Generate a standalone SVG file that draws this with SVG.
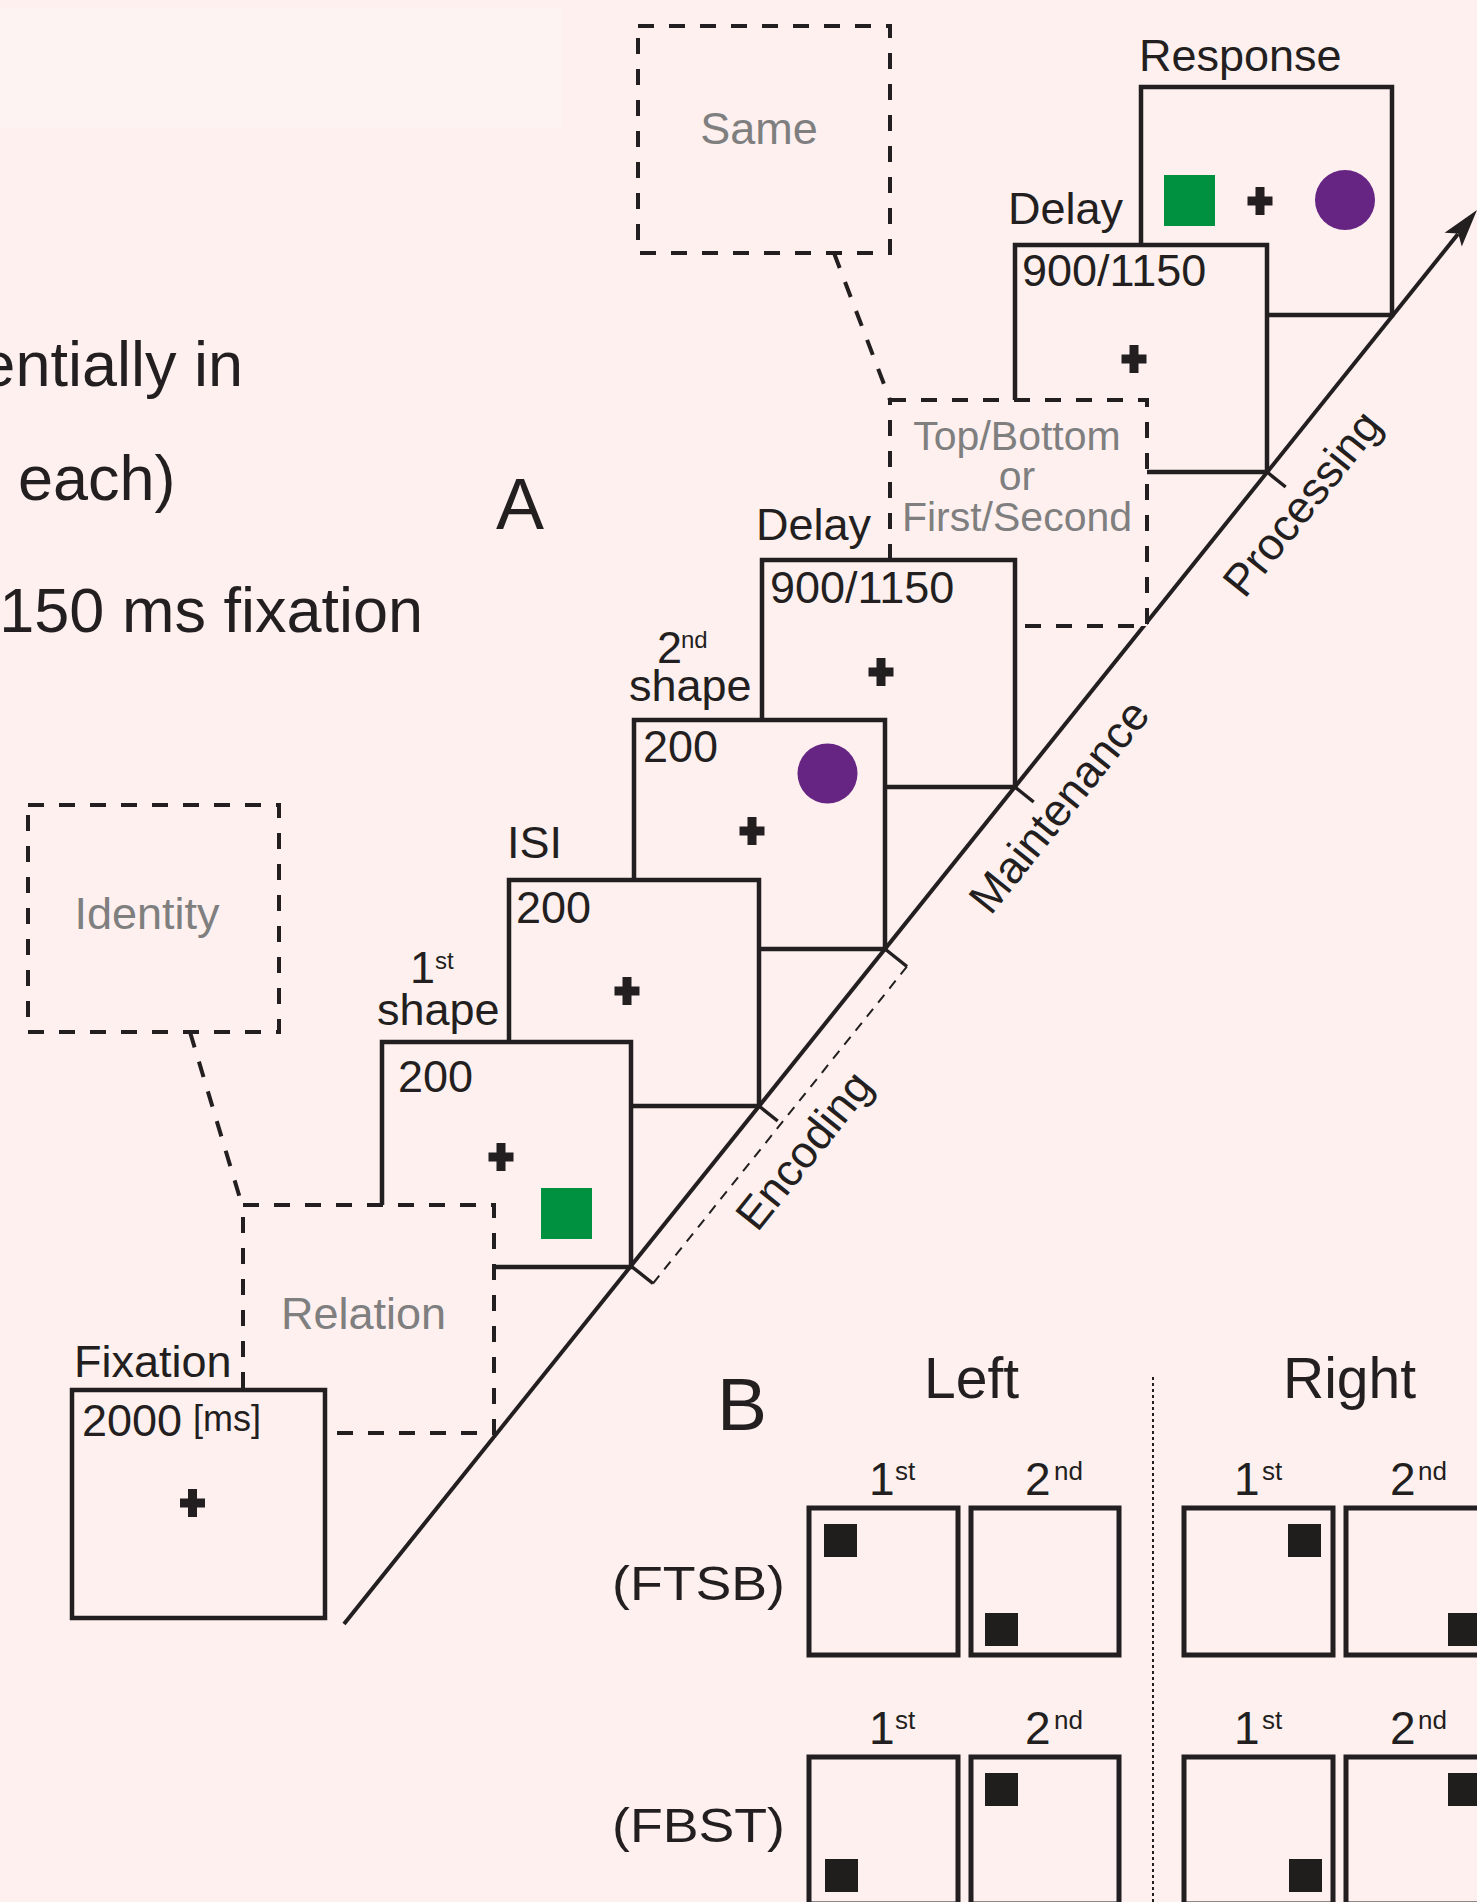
<svg xmlns="http://www.w3.org/2000/svg" xmlns:xlink="http://www.w3.org/1999/xlink" width="1477" height="1902" viewBox="0 0 1477 1902">
  <style>
    .t { font-family: "Liberation Sans", Arial, Helvetica, sans-serif; fill: #231f20; }
    .lbl { font-size: 45px; }
    .sup { font-size: 24px; }
    .bsup { font-size: 26px; }
    .gray { fill: #7f7f7f; }
    .frame { fill: #fdf0ef; stroke: #231f20; stroke-width: 4.5; }
    .dashed { fill: #fdf0ef; stroke: #231f20; stroke-width: 4; stroke-dasharray: 16 15; }
    .lead { fill: none; stroke: #231f20; stroke-width: 4; stroke-dasharray: 16 15; }
    .axis { fill: none; stroke: #231f20; stroke-width: 4; }
    .tick { fill: none; stroke: #231f20; stroke-width: 3.5; }
    .bracket { fill: none; stroke: #231f20; stroke-width: 2; stroke-dasharray: 10 8; }
    .cell { fill: #fdf0ef; stroke: #231f20; stroke-width: 5; }
    .dot { fill: #1f1e1c; }
    .green { fill: #009140; }
    .purple { fill: #662483; }
  </style>
  <defs>
    <g id="cross" fill="#231f20">
      <rect x="-12.5" y="-4.5" width="25" height="9"/>
      <rect x="-4.5" y="-14" width="9" height="28"/>
    </g>
  </defs>

  <!-- background -->
  <rect x="0" y="0" width="1477" height="1902" fill="#fdf0ef"/>
  <rect x="0" y="8" width="562" height="120" fill="#fdf3f2"/>

  <!-- running text at the left edge -->
  <g id="side-text" class="t" font-size="63">
    <text x="243" y="386" text-anchor="end">entially in</text>
    <text x="18" y="500">each)</text>
    <text x="423" y="632" text-anchor="end">150 ms fixation</text>
  </g>

  <text id="label-A" class="t" x="496" y="529" font-size="72">A</text>

  <!-- time axis, ticks, phase labels and dashed leaders -->
  <g id="connectors">
    <line class="axis" x1="344" y1="1624" x2="1458" y2="234"/>
    <polygon fill="#231f20" points="1477,210 1461.8,246.5 1458.2,233.4 1444.6,232.7"/>
    <g class="tick">
      <line x1="631" y1="1266" x2="653" y2="1283.5"/>
      <line x1="759" y1="1106" x2="777.7" y2="1121"/>
      <line x1="885" y1="949" x2="907" y2="966.5"/>
      <line x1="1015" y1="787" x2="1033.7" y2="802"/>
      <line x1="1267" y1="472" x2="1285.7" y2="487"/>
    </g>
    <line class="bracket" x1="653" y1="1283.5" x2="907" y2="966.5"/>
    <line class="lead" x1="190" y1="1032" x2="242" y2="1205"/>
    <line class="lead" x1="834" y1="253" x2="890" y2="400"/>
    <g class="t" font-size="45" text-anchor="middle">
      <text transform="translate(816,1160) rotate(-51.3)">Encoding</text>
      <text transform="translate(1071,816) rotate(-51.3)">Maintenance</text>
      <text transform="translate(1314,513) rotate(-51.3)">Processing</text>
    </g>
  </g>

  <!-- trial screens, back to front -->
  <g id="response">
    <rect class="frame" x="1141" y="87" width="251" height="228"/>
    <text class="t lbl" x="1139" y="71">Response</text>
    <rect class="green" x="1164" y="175" width="51" height="51"/>
    <use xlink:href="#cross" x="1260" y="201"/>
    <circle class="purple" cx="1345" cy="200" r="30"/>
  </g>

  <g id="delay-2">
    <rect class="frame" x="1015" y="245" width="252" height="227"/>
    <text class="t lbl" x="1008" y="224">Delay</text>
    <text class="t lbl" x="1022" y="286">900/1150</text>
    <use xlink:href="#cross" x="1134" y="359"/>
  </g>

  <g id="rule-position">
    <rect class="dashed" x="890" y="400" width="257" height="226"/>
    <g class="t gray" font-size="41" text-anchor="middle">
      <text x="1017" y="450">Top/Bottom</text>
      <text x="1017" y="490">or</text>
      <text x="1017" y="531">First/Second</text>
    </g>
  </g>

  <g id="delay-1">
    <rect class="frame" x="762" y="560" width="253" height="227"/>
    <text class="t lbl" x="756" y="540">Delay</text>
    <text class="t lbl" x="770" y="603">900/1150</text>
    <use xlink:href="#cross" x="881" y="672"/>
  </g>

  <g id="shape-2">
    <rect class="frame" x="634" y="720" width="251" height="229"/>
    <text class="t lbl"><tspan x="657" y="663">2</tspan><tspan class="sup" x="681" y="648">nd</tspan></text>
    <text class="t lbl" x="629" y="701">shape</text>
    <text class="t lbl" x="643" y="762">200</text>
    <circle class="purple" cx="827.5" cy="773.5" r="30"/>
    <use xlink:href="#cross" x="752" y="831"/>
  </g>

  <g id="isi">
    <rect class="frame" x="509" y="880" width="250" height="226"/>
    <text class="t lbl" x="507" y="858">ISI</text>
    <text class="t lbl" x="516" y="923">200</text>
    <use xlink:href="#cross" x="627" y="991"/>
  </g>

  <g id="shape-1">
    <rect class="frame" x="382" y="1042" width="249" height="225"/>
    <text class="t lbl"><tspan x="410" y="983">1</tspan><tspan class="sup" x="435" y="969">st</tspan></text>
    <text class="t lbl" x="377" y="1025">shape</text>
    <text class="t lbl" x="398" y="1092">200</text>
    <use xlink:href="#cross" x="501" y="1157"/>
    <rect class="green" x="541" y="1188" width="51" height="51"/>
  </g>

  <g id="rule-relation">
    <rect class="dashed" x="243" y="1205" width="251" height="228"/>
    <text class="t lbl gray" x="363.5" y="1329" text-anchor="middle">Relation</text>
  </g>

  <g id="fixation">
    <rect class="frame" x="72" y="1390" width="253" height="228"/>
    <text class="t lbl" x="74" y="1377">Fixation</text>
    <text class="t lbl"><tspan x="82" y="1436">2000</tspan><tspan x="193" y="1431" font-size="36">[ms]</tspan></text>
    <use xlink:href="#cross" x="192.5" y="1503"/>
  </g>

  <g id="rule-identity">
    <rect class="dashed" x="28" y="805" width="251" height="227"/>
    <text class="t lbl gray" x="147" y="929" text-anchor="middle">Identity</text>
  </g>

  <g id="rule-same">
    <rect class="dashed" x="638" y="26" width="252" height="227"/>
    <text class="t lbl gray" x="759" y="144" text-anchor="middle">Same</text>
  </g>

  <!-- panel B: stimulus positions -->
  <g id="panel-B">
    <text class="t" x="717" y="1430" font-size="75">B</text>
    <text class="t" x="924" y="1398" font-size="57">Left</text>
    <text class="t" x="1283" y="1398" font-size="57">Right</text>
    <line x1="1153" y1="1377" x2="1153" y2="1902" stroke="#231f20" stroke-width="2" stroke-dasharray="3 3"/>

    <g id="row-ftsb">
      <text class="t" x="612" y="1600" font-size="49" textLength="173" lengthAdjust="spacingAndGlyphs">(FTSB)</text>
      <g class="t" font-size="46">
        <text><tspan x="869" y="1495">1</tspan><tspan class="bsup" x="895" y="1480">st</tspan></text>
        <text><tspan x="1025" y="1495">2</tspan><tspan class="bsup" x="1054" y="1480">nd</tspan></text>
        <text><tspan x="1234" y="1495">1</tspan><tspan class="bsup" x="1262" y="1480">st</tspan></text>
        <text><tspan x="1390" y="1495">2</tspan><tspan class="bsup" x="1418" y="1480">nd</tspan></text>
      </g>
      <rect class="cell" x="809" y="1508" width="149" height="147"/>
      <rect class="cell" x="971" y="1508" width="148" height="147"/>
      <rect class="cell" x="1184" y="1508" width="149" height="147"/>
      <rect class="cell" x="1346" y="1508" width="149" height="147"/>
      <rect class="dot" x="824" y="1524" width="33" height="33"/>
      <rect class="dot" x="985" y="1613" width="33" height="33"/>
      <rect class="dot" x="1288" y="1524" width="33" height="33"/>
      <rect class="dot" x="1448" y="1613" width="33" height="33"/>
    </g>

    <g id="row-fbst">
      <text class="t" x="612" y="1842" font-size="49" textLength="173" lengthAdjust="spacingAndGlyphs">(FBST)</text>
      <g class="t" font-size="46">
        <text><tspan x="869" y="1744">1</tspan><tspan class="bsup" x="895" y="1729">st</tspan></text>
        <text><tspan x="1025" y="1744">2</tspan><tspan class="bsup" x="1054" y="1729">nd</tspan></text>
        <text><tspan x="1234" y="1744">1</tspan><tspan class="bsup" x="1262" y="1729">st</tspan></text>
        <text><tspan x="1390" y="1744">2</tspan><tspan class="bsup" x="1418" y="1729">nd</tspan></text>
      </g>
      <rect class="cell" x="809" y="1757" width="149" height="147"/>
      <rect class="cell" x="971" y="1757" width="148" height="147"/>
      <rect class="cell" x="1184" y="1757" width="149" height="147"/>
      <rect class="cell" x="1346" y="1757" width="149" height="147"/>
      <rect class="dot" x="825" y="1859" width="33" height="33"/>
      <rect class="dot" x="985" y="1773" width="33" height="33"/>
      <rect class="dot" x="1289" y="1859" width="33" height="33"/>
      <rect class="dot" x="1448" y="1773" width="33" height="33"/>
    </g>
  </g>
</svg>
